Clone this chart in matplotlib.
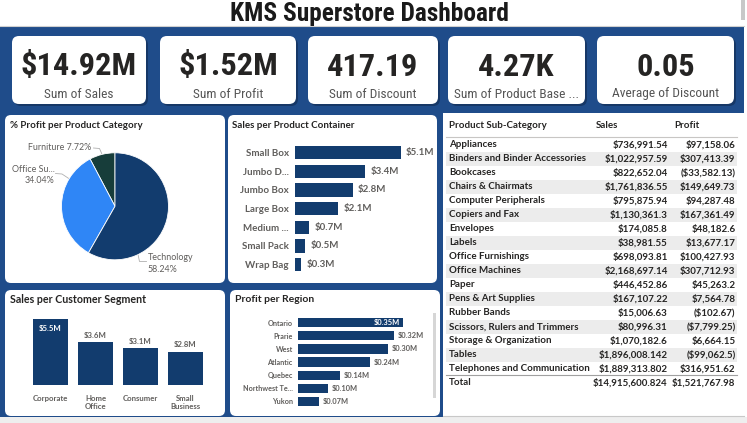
import matplotlib
matplotlib.use('Agg')
import matplotlib.pyplot as plt
from matplotlib.patches import FancyBboxPatch, Rectangle
import numpy as np

# ---------------- data ----------------
title = 'KMS Superstore Dashboard'
kpi_values = ['$14.92M', '$1.52M', '417.19', '4.27K', '0.05']
kpi_labels = ['Sum of Sales', 'Sum of Profit', 'Sum of Discount',
              'Sum of Product Base ...', 'Average of Discount']

pie_cats = ['Furniture', 'Office Su...', 'Technology']
pie_pcts = [7.72, 34.04, 58.24]

container_cats = ['Small Box', 'Jumbo D...', 'Jumbo Box', 'Large Box',
                  'Medium ...', 'Small Pack', 'Wrap Bag']
container_sales = [5.1, 3.4, 2.8, 2.1, 0.7, 0.5, 0.3]

segment_cats = ['Corporate', 'Home\nOffice', 'Consumer', 'Small\nBusiness']
segment_sales = [5.5, 3.6, 3.1, 2.8]

region_cats = ['Ontario', 'Prarie', 'West', 'Atlantic', 'Quebec',
               'Northwest Te...', 'Yukon']
region_profit = [0.35, 0.32, 0.30, 0.24, 0.14, 0.10, 0.07]

table_cols = ['Product Sub-Category', 'Sales', 'Profit']
subcats = ['Appliances', 'Binders and Binder Accessories', 'Bookcases',
           'Chairs & Chairmats', 'Computer Peripherals', 'Copiers and Fax',
           'Envelopes', 'Labels', 'Office Furnishings', 'Office Machines',
           'Paper', 'Pens & Art Supplies', 'Rubber Bands',
           'Scissors, Rulers and Trimmers', 'Storage & Organization',
           'Tables', 'Telephones and Communication']
sub_sales = [736991.54, 1022957.59, 822652.04, 1761836.55, 795875.94,
             1130361.3, 174085.8, 38981.55, 698093.81, 2168697.14,
             446452.86, 167107.22, 15006.63, 80996.31, 1070182.6,
             1896008.142, 1889313.802]
sub_profit = [97158.06, 307413.39, -33582.13, 149649.73, 94287.48,
              167361.49, 48182.6, 13677.17, 100427.93, 307712.93,
              45263.2, 7564.78, -102.67, -7799.25, 6664.15,
              -99062.5, 316951.62]
total_sales = 14915600.824
total_profit = 1521767.98

# ---------------- style ----------------
W, H = 747, 423
BLUE_BG = '#1f4c8a'
NAVY = '#123c6e'
PIE_COLORS = ['#173d3a', '#2f86f6', '#123c6e']
DARK = '#252423'
GRAY = '#605e5c'
COND = ['Roboto Condensed', 'Liberation Sans Narrow', 'DejaVu Sans']
UI = ['Lato', 'DejaVu Sans']

fig = plt.figure(figsize=(W / 100, H / 100), dpi=100)
fig.patch.set_facecolor('white')
renderer = fig.canvas.get_renderer()

bg = fig.add_axes([0, 0, 1, 1])
bg.set_xlim(0, W)
bg.set_ylim(H, 0)
bg.axis('off')


def px_axes(x, y, w, h):
    ax = fig.add_axes([x / W, 1 - (y + h) / H, w / W, h / H])
    ax.patch.set_alpha(0)
    return ax


def panel(x0, y0, x1, y1, r=6, color='white', z=1):
    bg.add_patch(FancyBboxPatch((x0, y0), x1 - x0, y1 - y0,
                                boxstyle=f'round,pad=0,rounding_size={r}',
                                fc=color, ec='none', zorder=z))


def fit_size(txt, target_w):
    """Scale a text's font size so that its rendered width is target_w px."""
    w = txt.get_window_extent(renderer=renderer).width
    size = txt.get_fontsize() * target_w / w
    txt.set_fontsize(size)
    return size


# background
bg.add_patch(Rectangle((0, 27), 744, 390, fc=BLUE_BG, ec='none', zorder=0))
bg.add_patch(Rectangle((0, 417), W, 6, fc='#eeeeee', ec='none', zorder=0))
bg.plot([0, 744], [26.5, 26.5], color='#d0d0d0', lw=0.8, zorder=0)
bg.add_patch(Rectangle((741, 0), 4, 20, fc='#c8c8c8', ec='none', zorder=0))
t = bg.text(369, 14.5, title, ha='center', va='center', fontsize=17.5,
            fontweight='bold', family=COND, fontstretch='condensed',
            color='#1a1a1a')
fit_size(t, 279)

# KPI cards
card_x = [(12, 146), (160, 296), (308, 438), (448, 585), (597, 734)]
val_size = None
lab_size = None
for (x0, x1), v, lab in zip(card_x, kpi_values, kpi_labels):
    panel(x0 + 2, 38, x1 + 2, 106, r=7, color='#163766', z=1)
    panel(x0, 36, x1, 104, r=7, z=2)
    cx = (x0 + x1) / 2
    tv = bg.text(cx, 66.5, v, ha='center', va='center', fontsize=25,
                 fontweight='bold', family=COND, fontstretch='condensed',
                 color='#252423', zorder=3)
    tl = bg.text(cx, 94, lab, ha='center', va='center', fontsize=9.5,
                 family=COND, fontstretch='condensed', color='#555555',
                 zorder=3)
    if val_size is None:
        val_size = fit_size(tv, 116)
        lab_size = fit_size(tl, 69)
    else:
        tv.set_fontsize(val_size)
        tl.set_fontsize(lab_size)

# panels
panel(5, 115, 225, 283)
panel(228, 115, 437, 283)
panel(5, 290, 225, 416)
panel(230, 290, 440, 416)
bg.add_patch(Rectangle((443, 113), 301, 304, fc='white', ec='none', zorder=1))
bg.plot([443, 744], [416, 416], color='#c8c8c8', lw=0.8, zorder=2)

bg.text(9.5, 125, '% Profit per Product Category', ha='left', va='center',
        fontsize=7, fontweight='bold', family=UI, color=DARK, zorder=3)
bg.text(231.5, 125, 'Sales per Product Container', ha='left', va='center',
        fontsize=7, fontweight='bold', family=UI, color=DARK, zorder=3)
bg.text(9.5, 299.5, 'Sales per Customer Segment', ha='left', va='center',
        fontsize=7.7, fontweight='bold', family=UI, color=DARK, zorder=3)
bg.text(235, 299.5, 'Profit per Region', ha='left', va='center',
        fontsize=7.5, fontweight='bold', family=UI, color=DARK, zorder=3)

# ---------------- pie ----------------
pcx, pcy, pr = 115, 206.3, 53.5
half = 62
axp = px_axes(pcx - half, pcy - half, 2 * half, 2 * half)
axp.pie(pie_pcts, colors=PIE_COLORS, startangle=90, counterclock=True,
        radius=1, wedgeprops=dict(linewidth=0.6, edgecolor='white'))
axp.set_xlim(-half / pr, half / pr)
axp.set_ylim(-half / pr, half / pr)
axp.set_aspect('equal')
axp.axis('off')


def arc_pt(deg):
    a = np.deg2rad(deg)
    return pcx + pr * np.cos(a), pcy - pr * np.sin(a)


lc = '#b0b0b0'
PL = dict(fontsize=6.4, family=UI, color=GRAY, zorder=3, va='center')
ax_, ay_ = arc_pt(104)
bg.plot([93.5, 99.5, ax_], [148, 148.5, ay_], color=lc, lw=0.6, zorder=3)
bg.text(91.5, 148, f'{pie_cats[0]} {pie_pcts[0]:.2f}%', ha='right', **PL)
ax_, ay_ = arc_pt(149)
bg.plot([55.5, 62, ax_], [173.5, 174, ay_], color=lc, lw=0.6, zorder=3)
bg.text(54.5, 169.5, pie_cats[1], ha='right', **PL)
bg.text(54.5, 180.5, f'{pie_pcts[1]:.2f}%', ha='right', **PL)
ax_, ay_ = arc_pt(-64.5)
bg.plot([ax_, 139.5, 146.5], [ay_, 261.5, 261.5], color=lc, lw=0.6, zorder=3)
bg.text(148, 257, pie_cats[2], ha='left', **PL)
bg.text(148, 269, f'{pie_pcts[2]:.2f}%', ha='left', **PL)

# ---------------- container bars ----------------
step = 18.63
axc = px_axes(295, 152.7 - step / 2, 142, 7 * step)
yc = np.arange(len(container_cats))
axc.barh(yc, container_sales, height=0.72, color=NAVY)
axc.set_xlim(0, 142 / 20.7)
axc.set_ylim(len(container_cats) - 0.5, -0.5)
axc.set_yticks(yc, container_cats)
axc.tick_params(axis='y', length=0, pad=4.5)
for tk in axc.get_yticklabels():
    tk.set_fontsize(7)
    tk.set_fontweight('bold')
    tk.set_family(UI)
    tk.set_color(GRAY)
axc.set_xticks([])
for s in axc.spines.values():
    s.set_visible(False)
for y, v in zip(yc, container_sales):
    axc.annotate(f'${v:.1f}M', (v, y), xytext=(3.6, 0),
                 textcoords='offset points', ha='left', va='center',
                 fontsize=7, fontweight='bold', family=UI, color=GRAY)

# ---------------- segment bars ----------------
sc = 11.95
axs = px_axes(28, 305, 180, 80)
xs = np.arange(len(segment_cats))
axs.bar(xs, segment_sales, width=0.76, color=NAVY)
axs.set_xlim(-0.5, len(segment_cats) - 0.5)
axs.set_ylim(0, 80 / sc)
axs.set_yticks([])
axs.set_xticks(xs, segment_cats)
axs.tick_params(axis='x', length=0, pad=7)
for tk in axs.get_xticklabels():
    tk.set_fontsize(5.6)
    tk.set_fontweight('bold')
    tk.set_family(UI)
    tk.set_color(GRAY)
    tk.set_linespacing(1.25)
for s in axs.spines.values():
    s.set_visible(False)
for i, (x, v) in enumerate(zip(xs, segment_sales)):
    if i == 0:
        axs.annotate(f'${v:.1f}M', (x, v), xytext=(0, -7),
                     textcoords='offset points', ha='center', va='center',
                     fontsize=5.6, fontweight='bold', family=UI, color='white')
    else:
        axs.annotate(f'${v:.1f}M', (x, v), xytext=(0, 4.8),
                     textcoords='offset points', ha='center', va='center',
                     fontsize=5.6, fontweight='bold', family=UI, color=GRAY)

# ---------------- region bars ----------------
rstep = 13.13
axr = px_axes(297.7, 322.7 - rstep / 2, 132, 7 * rstep)
yr = np.arange(len(region_cats))
axr.barh(yr, region_profit, height=0.71, color=NAVY)
axr.set_xlim(0, 0.44)
axr.set_ylim(len(region_cats) - 0.5, -0.5)
axr.set_yticks(yr, region_cats)
axr.tick_params(axis='y', length=0, pad=3.6)
for tk in axr.get_yticklabels():
    tk.set_fontsize(5.2)
    tk.set_fontweight('bold')
    tk.set_family(UI)
    tk.set_color(GRAY)
axr.set_xticks([])
for s in axr.spines.values():
    s.set_visible(False)
for i, (y, v) in enumerate(zip(yr, region_profit)):
    if i == 0:
        axr.annotate(f'${v:.2f}M', (v, y), xytext=(-2, 0),
                     textcoords='offset points', ha='right', va='center',
                     fontsize=5.4, fontweight='bold', family=UI, color='white')
    else:
        axr.annotate(f'${v:.2f}M', (v, y), xytext=(3, 0),
                     textcoords='offset points', ha='left', va='center',
                     fontsize=5.4, fontweight='bold', family=UI, color=GRAY)
bg.add_patch(Rectangle((433, 313), 3.3, 85, fc='#d6d6d6', ec='none', zorder=3))

# ---------------- table ----------------
def money(v):
    s = f'${abs(v):,}'
    return f'({s})' if v < 0 else s


TF = dict(fontsize=7.0, family=UI, color=DARK, zorder=4, va='center',
          fontweight='bold')
bg.text(449, 125, table_cols[0], ha='left', **TF)
bg.text(596, 125, table_cols[1], ha='left', **TF)
bg.text(674.3, 125, table_cols[2], ha='left', **TF)
bg.plot([446, 737], [137.3, 137.3], color='#c8c6c4', lw=0.8, zorder=3)
for i, (name, sv, pv) in enumerate(zip(subcats, sub_sales, sub_profit)):
    y = 144.7 + 14 * i
    if i % 2 == 1:
        bg.add_patch(Rectangle((446, y - 7), 291, 14, fc='#ececec',
                               ec='none', zorder=2))
    bg.text(449, y, name, ha='left', **TF)
    bg.text(667.7, y, money(sv), ha='right', **TF)
    bg.text(735.5, y, money(pv), ha='right', **TF)
bg.plot([446, 737], [375.3, 375.3], color='#a0a0a0', lw=0.8, zorder=3)
bg.text(449, 382.7, 'Total', ha='left', **TF)
bg.text(667.7, 382.7, money(total_sales), ha='right', **TF)
bg.text(735.5, 382.7, money(total_profit), ha='right', **TF)

fig.savefig('out.png', dpi=100, facecolor='white')
